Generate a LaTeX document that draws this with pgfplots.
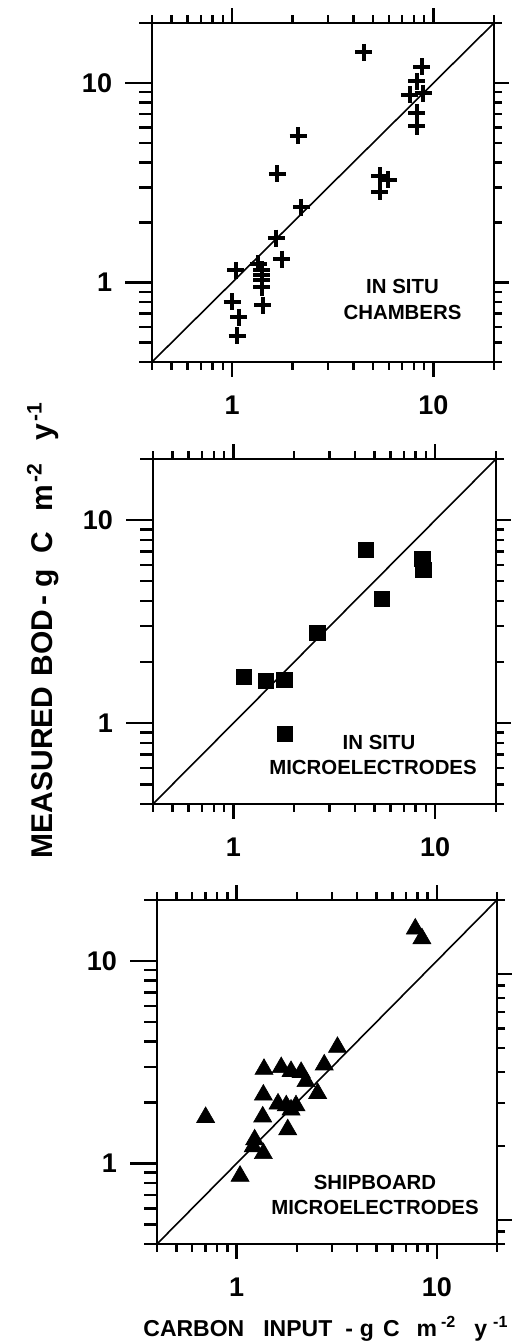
\documentclass[border=0pt]{standalone}
\usepackage{fontspec}
\setmainfont{Liberation Sans}
\usepackage{pgfplots}
\pgfplotsset{compat=1.18}

\newcommand{\tlfont}{\bfseries\fontsize{13.5pt}{13.5pt}\selectfont}

% left-side overlay axis (long ticks + labels)
\newcommand{\leftaxis}[3]{%
\begin{axis}[xmode=log, ymode=log, xmin=0.4, xmax=20, ymin=0.4, ymax=20,
    scale only axis, anchor=south west, at={#1}, width=#2, height=#3,
    axis line style={line width=1.3pt},
    tick style={line width=1.2pt, black},
    tick align=outside,
    ticklabel style={font=\tlfont},
    xtick=\empty,
    ytick={1,10}, yticklabels={1,10},
    minor ytick={0.4,0.5,0.6,0.7,0.8,0.9,2,3,4,5,6,7,8,9,20},
    ytick pos=left,
    major tick length=13.5pt, minor tick length=6.5pt,
    yticklabel style={xshift=-3pt}]
\end{axis}}

\begin{document}
\begin{tikzpicture}
\path[use as bounding box] (0,0) rectangle (256.5pt,671.5pt);

% ---------------- Panel 1: in situ chambers ----------------
\begin{axis}[xmode=log, ymode=log, xmin=0.4, xmax=20, ymin=0.4, ymax=20,
    scale only axis, anchor=south west, at={(76pt,490.5pt)}, width=171pt, height=169.5pt,
    axis line style={line width=1.3pt},
    tick style={line width=1.2pt, black},
    tick align=outside,
    ticklabel style={font=\tlfont},
    xtick={1,10}, xticklabels={1,10},
    minor xtick={0.4,0.5,0.6,0.7,0.8,0.9,2,3,4,5,6,7,8,9,20},
    xtick pos=both,
    ytick={1,10}, yticklabels={,},
    minor ytick={0.4,0.5,0.6,0.7,0.8,0.9,2,3,4,5,6,7,8,9,20},
    ytick pos=right,
    major tick length=7.5pt, minor tick length=4pt,
    xticklabel style={yshift=-6pt}]
\addplot[black, line width=0.8pt, no marks] coordinates {(0.4,0.4) (20,20)};
\addplot[only marks, mark=+, mark size=4.25pt, mark options={line width=2pt, black}]
coordinates {
(4.52,14.25) (8.75,12.1) (8.26,10.2) (8.9,8.9) (7.65,8.74) (8.26,7.08) (8.26,6.06)
(2.13,5.44) (1.68,3.51) (5.41,3.43) (5.96,3.27) (5.41,2.86) (2.21,2.39)
(1.66,1.67) (1.76,1.31) (1.04,1.15)
(1.35,1.24) (1.40,1.16) (1.40,1.09) (1.40,1.03) (1.40,0.95) (1.42,0.77)
(1.00,0.80) (1.08,0.67) (1.06,0.54)
};
\end{axis}
\leftaxis{(76pt,490.5pt)}{171pt}{169.5pt}

% ---------------- Panel 2: in situ microelectrodes ----------------
\begin{axis}[xmode=log, ymode=log, xmin=0.4, xmax=20, ymin=0.4, ymax=20,
    scale only axis, anchor=south west, at={(76.5pt,269.5pt)}, width=171.5pt, height=172.5pt,
    axis line style={line width=1.3pt},
    tick style={line width=1.2pt, black},
    tick align=outside,
    ticklabel style={font=\tlfont},
    xtick={1,10}, xticklabels={1,10},
    minor xtick={0.4,0.5,0.6,0.7,0.8,0.9,2,3,4,5,6,7,8,9,20},
    xtick pos=both,
    ytick={1,10}, yticklabels={,},
    minor ytick={0.4,0.5,0.6,0.7,0.8,0.9,2,3,4,5,6,7,8,9,20},
    ytick pos=right,
    major tick length=7.5pt, minor tick length=4pt,
    xticklabel style={yshift=-6pt}]
\addplot[black, line width=0.8pt, no marks] coordinates {(0.4,0.4) (20,20)};
\addplot[only marks, mark=square*, mark size=3.8pt, mark options={line width=0.4pt, draw=black, fill=black}]
coordinates {
(4.55,7.11) (8.64,6.47) (8.74,5.67) (5.45,4.08) (2.61,2.79)
(1.13,1.69) (1.45,1.62) (1.79,1.64) (1.80,0.886)
};
\end{axis}
\leftaxis{(76.5pt,269.5pt)}{171.5pt}{172.5pt}

% ---------------- Panel 3: shipboard microelectrodes ----------------
\begin{axis}[xmode=log, ymode=log, xmin=0.4, xmax=20, ymin=0.4, ymax=20,
    scale only axis, anchor=south west, at={(78.5pt,49.5pt)}, width=170pt, height=172pt,
    axis line style={line width=1.3pt},
    tick style={line width=1.2pt, black},
    tick align=outside,
    ticklabel style={font=\tlfont},
    xtick={1,10}, xticklabels={1,10},
    minor xtick={0.4,0.5,0.6,0.7,0.8,0.9,2,3,4,5,6,7,8,9,20},
    xtick pos=both,
    ytick=\empty,
    major tick length=7.5pt, minor tick length=4pt,
    xticklabel style={yshift=-6pt}]
\addplot[black, line width=0.8pt, no marks] coordinates {(0.4,0.4) (20,20)};
\addplot[only marks, mark=triangle*, mark size=5.2pt, mark options={line width=0.3pt, draw=black, fill=black}]
coordinates {
(7.81,14.4) (8.43,12.9) (3.19,3.75) (2.74,3.07) (1.37,2.92) (1.67,2.98)
(1.87,2.85) (2.10,2.82) (2.22,2.54) (2.54,2.22) (1.36,2.18) (1.61,1.97)
(1.77,1.93) (1.98,1.93) (1.87,1.84) (1.35,1.70) (0.70,1.69) (1.80,1.47)
(1.23,1.31) (1.21,1.21) (1.36,1.12) (1.04,0.866)
};
\end{axis}
\leftaxis{(78.5pt,49.5pt)}{170pt}{172pt}
% right side of panel 3: its own (shifted) log scale, 0.8 to 20
\begin{axis}[xmode=log, ymode=log, xmin=0.4, xmax=20, ymin=0.8, ymax=20,
    scale only axis, anchor=south west, at={(78.5pt,49.5pt)}, width=170pt, height=172pt,
    axis line style={line width=1.3pt},
    tick style={line width=1.2pt, black},
    tick align=outside,
    xtick=\empty,
    ytick={1,10}, yticklabels={,},
    minor ytick={0.8,0.9,2,3,4,5,6,7,8,9,20},
    ytick pos=right,
    major tick length=7.5pt, minor tick length=4pt]
\end{axis}

% ---------------- annotations ----------------
\begin{scope}[every node/.style={font=\bfseries\fontsize{10.2pt}{10.2pt}\selectfont, inner sep=0pt}]
\node[anchor=base] at (201.25pt,524.85pt) {IN SITU};
\node[anchor=base] at (201.25pt,511.5pt) {CHAMBERS};
\node[anchor=base] at (189.5pt,296.5pt) {IN SITU};
\node[anchor=base] at (186.5pt,284pt) {MICROELECTRODES};
\node[anchor=base] at (187.5pt,76.5pt) {SHIPBOARD};
\node[anchor=base] at (187.5pt,64pt) {MICROELECTRODES};
\end{scope}

% ---------------- axis titles ----------------
\node[anchor=base west, inner sep=0pt, font=\bfseries\fontsize{11.5pt}{11.5pt}\selectfont]
  at (71.5pt,3.15pt)
  {CARBON\hspace{9.5pt}INPUT\hspace{6.5pt}-\hspace{3.5pt}g\hspace{4.5pt}C\hspace{8.5pt}m\hspace{2pt}\textsuperscript{-2}\hspace{9pt}y\hspace{3pt}\textsuperscript{-1}};
\node[anchor=base, rotate=90, inner sep=0pt, font=\bfseries\fontsize{15pt}{15pt}\selectfont]
  at (26pt,356.5pt)
  {MEASURED\hspace{5pt}BOD\hspace{2pt}-\hspace{4pt}g\hspace{8pt}C\hspace{10pt}m\hspace{1.5pt}\textsuperscript{-2}\hspace{11pt}y\hspace{1pt}\textsuperscript{-1}};
\end{tikzpicture}
\end{document}
